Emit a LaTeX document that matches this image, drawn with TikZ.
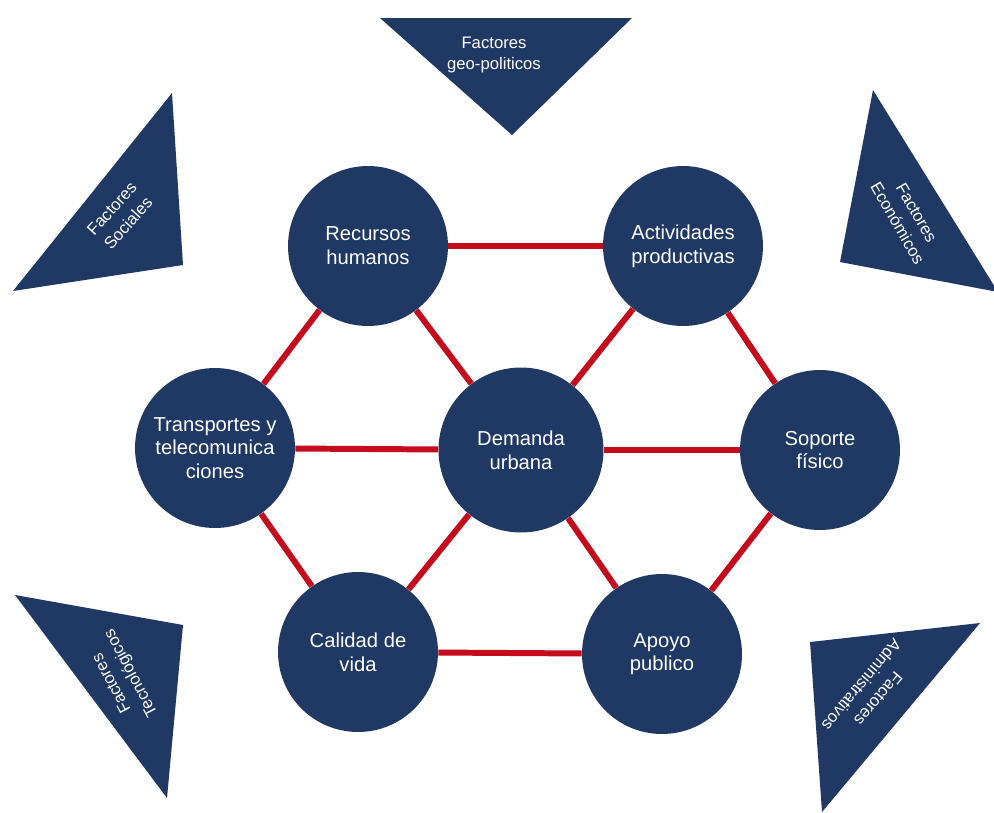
\documentclass[tikz,border=0pt]{standalone}
\usepackage{fontspec}
\setmainfont{Liberation Sans}
\definecolor{navy}{RGB}{31,56,100}
\definecolor{linkred}{RGB}{196,12,28}
\begin{document}
\begin{tikzpicture}[x=0.02cm, y=-0.02cm,
        factor/.style={circle, fill=navy, text=white, minimum size=3.2cm, inner sep=0pt, align=center, font=\fontsize{11.5}{13.5}\selectfont},
        link/.style={line width=3.4pt, color=linkred},
        wedge/.style={fill=navy},
        wedgetext/.style={text=white, align=center, inner sep=0pt, font=\fontsize{9.5}{12.5}\selectfont}]
            \useasboundingbox (0,0) rectangle (994,812);

            \fill[wedge] (380,18) -- (632,18) -- (512,135) -- cycle;
            \fill[wedge] (172,93) -- (183,265) -- (13,291) -- cycle;
            \fill[wedge] (873,90) -- (840,262) -- (998,292) -- cycle;
            \fill[wedge] (15,595) -- (183,625) -- (167,798) -- cycle;
            \fill[wedge] (810,642) -- (980,623) -- (822,812) -- cycle;

            \node (geo) at (494,55)[wedgetext]{Factores\\geo-politicos};
            \node (soc) at (120,216)[wedgetext, rotate=48]{Factores\\Sociales};
            \node (eco) at (907,218)[wedgetext, rotate=-60]{Factores\\Económicos};
            \node (tec) at (122,678)[wedgetext, rotate=118]{Factores\\Tecnológicos};
            \node (adm) at (870,692)[wedgetext, rotate=230]{Factores\\Administrativos};

            \node (rec) at (368,246)[factor]{Recursos\\humanos};
            \node (act) at (683,246)[factor]{Actividades\\productivas};
            \node (tra) at (215,448)[factor]{Transportes y\\telecomunica\\ciones};
            \node (dem) at (521,450)[factor, minimum size=3.3cm]{Demanda\\urbana};
            \node (sop) at (820,450)[factor]{Soporte\\físico};
            \node (cal) at (358,652)[factor]{Calidad de\\vida};
            \node (apo) at (662,654)[factor]{Apoyo\\publico};

            \foreach \a/\b in {rec/act, rec/tra, rec/dem, act/dem, act/sop, tra/dem,
                               dem/sop, tra/cal, dem/cal, dem/apo, sop/apo, cal/apo}
                {
                    \draw[link] (\a) -- (\b);
                }
        \end{tikzpicture}
\end{document}
